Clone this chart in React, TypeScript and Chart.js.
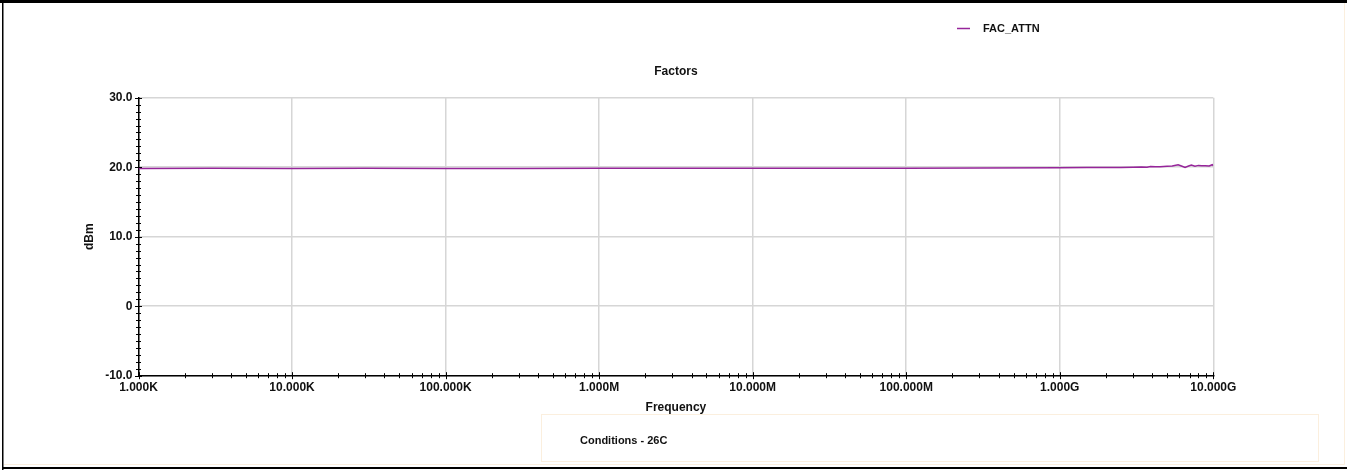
import React, { useEffect, useRef } from 'react';
import { Chart, registerables } from 'chart.js';

Chart.register(...registerables);

// ---- Data ----
const frequencies = [
  1e3, 3e3, 1e4, 3e4, 1e5, 3e5, 1e6, 3e6, 1e7, 3e7, 1e8, 3e8, 1e9, 1.5e9, 2e9, 2.5e9,
  3e9, 3.4e9, 3.7e9, 3.9e9, 4.2e9, 4.5e9, 5e9, 5.4e9, 5.9e9, 6.2e9, 6.55e9, 6.9e9,
  7.2e9, 7.6e9, 8e9, 8.4e9, 8.85e9, 9.4e9, 9.85e9, 1e10,
];
const facAttn = [
  19.83, 19.84, 19.83, 19.84, 19.83, 19.83, 19.84, 19.84, 19.84, 19.85, 19.86, 19.89, 19.93, 19.95, 19.96, 19.97,
  19.99, 20.02, 19.99, 20.1, 20.06, 20.08, 20.15, 20.18, 20.36, 20.18, 19.95, 20.17,
  20.3, 20.15, 20.26, 20.2, 20.22, 20.17, 20.36, 20.22,
];
const xTickValues = [1e3, 1e4, 1e5, 1e6, 1e7, 1e8, 1e9, 1e10];
const xTickLabels = ['1.000K', '10.000K', '100.000K', '1.000M', '10.000M', '100.000M', '1.000G', '10.000G'];
const xMinorMultipliers = [2, 3, 4, 5, 6, 7, 8, 9];
const yTickValues = [-10, 0, 10, 20, 30];
const yTickLabels = ['-10.0', '0', '10.0', '20.0', '30.0'];
const yMinorStep = 1;

const seriesName = 'FAC_ATTN';
const chartTitle = 'Factors';
const xTitle = 'Frequency';
const yTitle = 'dBm';
const conditionsText = 'Conditions - 26C';

const FONT = '"Liberation Sans", Arial, Helvetica, sans-serif';
const LINE_COLOR = '#96259a';
const GRID_COLOR = '#d6d6d6';
const TEXT_COLOR = '#111111';
const CREAM = '#fbefde';

const W = 1347;
const H = 470;

const decorPlugin = {
  id: 'decor',
  beforeDraw(chart: any) {
    const ctx = chart.ctx;
    ctx.save();
    ctx.fillStyle = '#ffffff';
    ctx.fillRect(0, 0, chart.width, chart.height);
    ctx.restore();
  },
  afterDraw(chart: any) {
    const { ctx, chartArea, scales } = chart;
    const xs = scales.x;
    const ys = scales.y;
    ctx.save();

    // cross ticks on the y axis
    ctx.strokeStyle = '#000';
    ctx.lineWidth = 1;
    const yMin = yTickValues[0];
    const yMax = yTickValues[yTickValues.length - 1];
    for (let v = yMin; v <= yMax + 1e-9; v += yMinorStep) {
      const major = yTickValues.some((t) => Math.abs(t - v) < 1e-9);
      const len = major ? 3.5 : 2.5;
      const py = Math.round(ys.getPixelForValue(v)) + 0.5;
      ctx.beginPath();
      ctx.moveTo(chartArea.left - len, py);
      ctx.lineTo(chartArea.left + len, py);
      ctx.stroke();
    }
    // cross ticks on the x axis
    const drawXTick = (val: number, len: number) => {
      const px = Math.round(xs.getPixelForValue(val)) + 0.5;
      ctx.beginPath();
      ctx.moveTo(px, chartArea.bottom - len);
      ctx.lineTo(px, chartArea.bottom + len);
      ctx.stroke();
    };
    xTickValues.forEach((d, i) => {
      drawXTick(d, 3.5);
      if (i < xTickValues.length - 1) {
        xMinorMultipliers.forEach((m) => drawXTick(d * m, 2.5));
      }
    });

    // chart title
    ctx.fillStyle = TEXT_COLOR;
    ctx.font = `bold 12px ${FONT}`;
    ctx.textAlign = 'center';
    ctx.textBaseline = 'middle';
    ctx.fillText(chartTitle, (chartArea.left + chartArea.right) / 2, 72);

    // legend
    ctx.strokeStyle = LINE_COLOR;
    ctx.lineWidth = 1.5;
    ctx.beginPath();
    ctx.moveTo(957, 28.5);
    ctx.lineTo(970, 28.5);
    ctx.stroke();
    ctx.font = `bold 11px ${FONT}`;
    ctx.textAlign = 'left';
    ctx.fillText(seriesName, 983, 28.5);

    // conditions box
    ctx.strokeStyle = CREAM;
    ctx.lineWidth = 1;
    ctx.strokeRect(541.5, 414.5, 777, 47);
    ctx.fillStyle = TEXT_COLOR;
    ctx.font = `bold 11px ${FONT}`;
    ctx.fillText(conditionsText, 580, 441);

    // faint inner frame
    ctx.beginPath();
    ctx.moveTo(1344.5, 3);
    ctx.lineTo(1344.5, 464.5);
    ctx.lineTo(4, 464.5);
    ctx.stroke();

    // outer black frame
    ctx.fillStyle = '#000';
    ctx.fillRect(0, 0, W, 3);
    ctx.fillRect(2, 0, 1.5, H);
    ctx.fillRect(2, 467, W - 2, 2);

    ctx.restore();
  },
};

export default function App() {
  const canvasRef = useRef<HTMLCanvasElement | null>(null);

  useEffect(() => {
    const canvas = canvasRef.current;
    if (!canvas) return;
    const chart = new Chart(canvas, {
      type: 'line',
      data: {
        datasets: [
          {
            label: seriesName,
            data: frequencies.map((f, i) => ({ x: f, y: facAttn[i] })),
            borderColor: LINE_COLOR,
            backgroundColor: LINE_COLOR,
            borderWidth: 1.5,
            pointRadius: 0,
            tension: 0,
            fill: false,
          },
        ],
      },
      options: {
        responsive: false,
        animation: false,
        events: [],
        layout: { padding: { left: 0, top: 97.7, right: W - 1213.3, bottom: 0 } },
        plugins: {
          legend: { display: false },
          title: { display: false },
          tooltip: { enabled: false },
        },
        scales: {
          x: {
            type: 'logarithmic',
            min: xTickValues[0],
            max: xTickValues[xTickValues.length - 1],
            afterBuildTicks: (scale: any) => {
              scale.ticks = xTickValues.map((v) => ({ value: v }));
            },
            afterFit: (scale: any) => {
              scale.height = H - 375.7;
              scale.paddingLeft = 0;
              scale.paddingRight = 0;
            },
            grid: { color: GRID_COLOR, lineWidth: 1.5, drawTicks: false },
            border: { display: true, color: '#000', width: 1.5 },
            ticks: {
              autoSkip: false,
              maxRotation: 0,
              minRotation: 0,
              padding: 5,
              color: TEXT_COLOR,
              font: { family: FONT, size: 12, weight: 'bold' },
              callback: (_v: any, i: number) => xTickLabels[i],
            },
            title: {
              display: true,
              text: xTitle,
              color: TEXT_COLOR,
              font: { family: FONT, size: 12, weight: 'bold' },
              padding: { top: 0, bottom: 55.3 },
            },
          },
          y: {
            type: 'linear',
            min: yTickValues[0],
            max: yTickValues[yTickValues.length - 1],
            afterBuildTicks: (scale: any) => {
              scale.ticks = yTickValues.map((v) => ({ value: v }));
            },
            afterFit: (scale: any) => {
              scale.width = 138.5;
              scale.paddingTop = 0;
              scale.paddingBottom = 0;
            },
            grid: { color: GRID_COLOR, lineWidth: 1.5, drawTicks: false },
            border: { display: true, color: '#000', width: 1.5 },
            ticks: {
              padding: 6,
              color: TEXT_COLOR,
              font: { family: FONT, size: 12, weight: 'bold' },
              callback: (_v: any, i: number) => yTickLabels[i],
            },
            title: {
              display: true,
              text: yTitle,
              color: TEXT_COLOR,
              font: { family: FONT, size: 12, weight: 'bold' },
              padding: { top: 82.8, bottom: 0 },
            },
          },
        },
      },
      plugins: [decorPlugin],
    } as any);
    return () => chart.destroy();
  }, []);

  return (
    <div style={{ position: 'absolute', left: 0, top: 0, width: W, height: H, background: '#fff' }}>
      <canvas ref={canvasRef} width={W} height={H} style={{ display: 'block', width: W, height: H }} />
    </div>
  );
}
